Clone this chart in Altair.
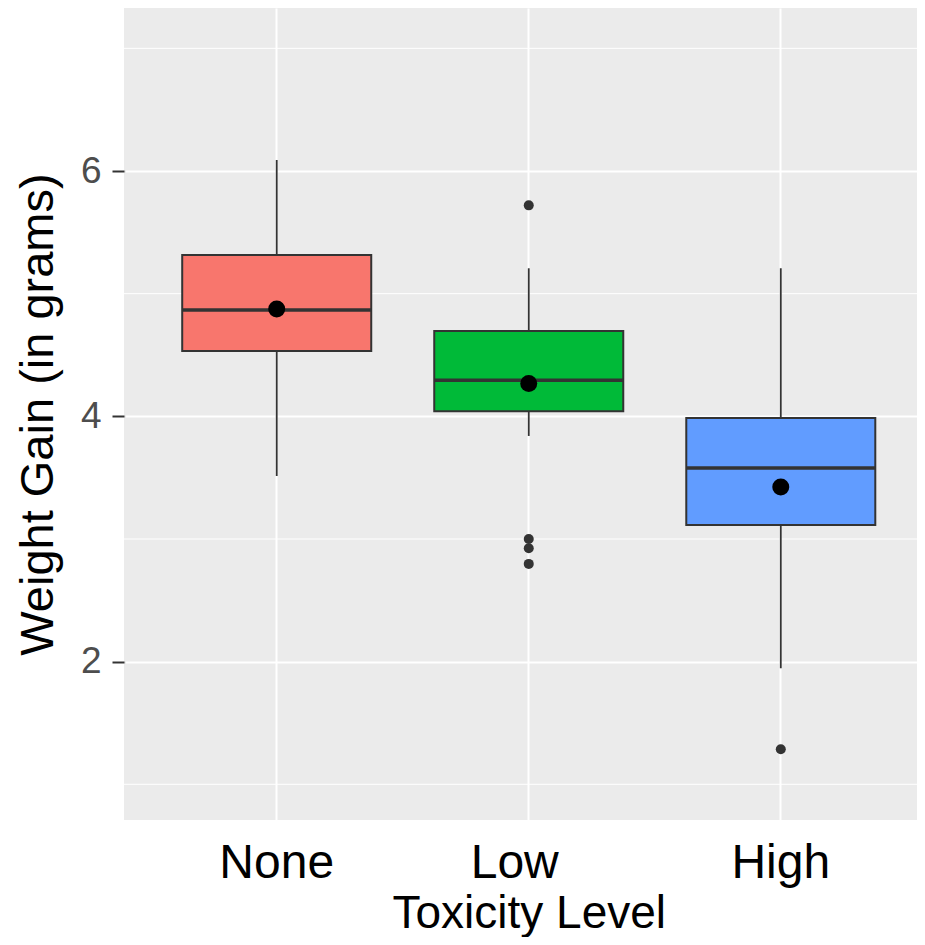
import altair as alt
import pandas as pd

levels = ["None", "Low", "High"]
colors = ["#F8766D", "#00BA38", "#619CFF"]
q1 = [4.533, 4.042, 3.114]
median = [4.867, 4.295, 3.579]
q3 = [5.315, 4.695, 3.986]
whisker_lo = [3.514, 3.840, 1.946]
whisker_hi = [6.090, 5.207, 5.207]
means = [4.875, 4.268, 3.424]
outlier_level = ["Low", "Low", "Low", "Low", "High"]
outlier_value = [5.72, 3.00, 2.924, 2.797, 1.286]
major_ticks = [2, 4, 6]
minor_ticks = [1, 3, 5, 7]

FONT = "Liberation Sans"

summary = pd.DataFrame({
    "level": levels, "q1": q1, "median": median, "q3": q3,
    "lo": whisker_lo, "hi": whisker_hi, "mean": means,
})
outliers = pd.DataFrame({"level": outlier_level, "value": outlier_value})
minor = pd.DataFrame({"v": minor_ticks})

x_scale = alt.Scale(domain=levels, range=[1.5, 808], paddingInner=0, paddingOuter=0.1)
y_scale = alt.Scale(domain=[0.709, 7.329], nice=False, zero=False)

x_axis = alt.Axis(
    title="Toxicity Level", grid=True, gridColor="white", gridWidth=2,
    bandPosition=0.5, ticks=False, domain=False, labelAngle=0,
    labelFont=FONT, labelFontSize=48, labelColor="black", labelPadding=19,
    labelOffset=alt.ExprRef("datum.value === 'Low' ? -14 : 0"),
    titleFont=FONT, titleFontSize=46, titleFontWeight="normal", titleColor="black",
    titlePadding=4,
)
y_axis = alt.Axis(
    title="Weight Gain (in grams)", values=major_ticks, grid=True, gridColor="white",
    gridWidth=2, domain=False, tickColor="#333333", tickSize=12, tickWidth=2,
    labelFont=FONT, labelFontSize=37, labelColor="#4D4D4D", labelPadding=11,
    titleFont=FONT, titleFontSize=47, titleFontWeight="normal", titleColor="black",
    titlePadding=18,
)


def X():
    return alt.X("level:N", sort=levels, scale=x_scale, axis=x_axis)


def Y(field):
    return alt.Y(f"{field}:Q", scale=y_scale, axis=y_axis)


minor_grid = alt.Chart(minor).mark_rule(color="white", strokeWidth=1).encode(y=Y("v"))

whiskers = alt.Chart(summary).mark_rule(color="#333333", strokeWidth=1.8).encode(
    x=X(), y=Y("lo"), y2="hi:Q"
)

boxes = alt.Chart(summary).mark_bar(
    width=alt.RelativeBandSize(0.75), stroke="#333333", strokeWidth=2
).encode(
    x=X(), y=Y("q1"), y2="q3:Q",
    color=alt.Color("level:N", scale=alt.Scale(domain=levels, range=colors), legend=None),
)

medians = alt.Chart(summary).mark_tick(color="#333333", thickness=3.5, size=189, opacity=1).encode(
    x=X(), y=Y("median")
)

out_pts = alt.Chart(outliers).mark_circle(size=100, color="#333333", opacity=1).encode(
    x=X(), y=Y("value")
)

mean_pts = alt.Chart(summary).mark_circle(size=289, color="black", opacity=1).encode(
    x=X(), y=Y("mean")
)

chart = alt.layer(minor_grid, whiskers, boxes, medians, out_pts, mean_pts).properties(
    width=793, height=812,
    autosize=alt.AutoSizeParams(type="none"),
    padding={"left": 116, "top": 0, "right": 0, "bottom": 117},
    background="white",
).configure_view(fill="#EBEBEB", strokeWidth=0)

chart.save("out.html", embed_options={"renderer": "svg", "actions": False})
